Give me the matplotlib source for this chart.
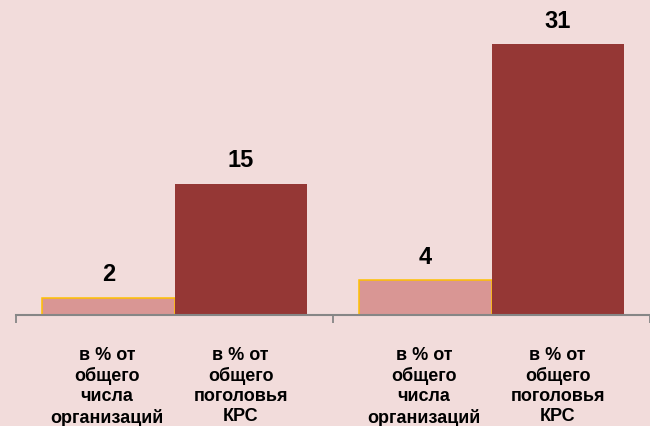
import matplotlib.pyplot as plt
import numpy as np

plt.rcParams['font.family'] = ['Liberation Sans', 'DejaVu Sans']

# data
groups = [0, 1]
share_orgs = [2, 4]
share_cattle = [15, 31]
label_orgs = 'в % от\nобщего\nчисла\nорганизаций'
label_cattle = 'в % от\nобщего\nпоголовья\nКРС'

bg = '#f2dcdb'
fig = plt.figure(figsize=(6.5, 4.27), dpi=100, facecolor=bg)
ax = fig.add_axes([16 / 650, 111 / 427, 634 / 650, 316 / 427])
ax.set_facecolor(bg)

x = np.array(groups)
w = 0.417
b1 = ax.bar(x - w / 2, share_orgs, w, color='#d99694', edgecolor='#ffc000', linewidth=1.1)
b2 = ax.bar(x + w / 2, share_cattle, w, color='#953735', linewidth=0)

for bars in (b1, b2):
    for r in bars:
        ax.annotate(str(int(r.get_height())), (r.get_x() + r.get_width() / 2, r.get_height()),
                    xytext=(0, 9), textcoords='offset points', ha='center', va='bottom',
                    fontsize=17, fontweight='bold', color='#000000')

trans = ax.get_xaxis_transform()
for xi in x:
    ax.text(xi - w / 2 - 0.005, -0.097, label_orgs, transform=trans, ha='center', va='top',
            fontsize=13, fontweight='bold', linespacing=1.24)
    ax.text(xi + w / 2, -0.097, label_cattle, transform=trans, ha='center', va='top',
            fontsize=13, fontweight='bold', linespacing=1.24)

ax.set_xlim(-0.5, 1.5)
ax.set_ylim(0, 36.15)
ax.set_xticks([-0.5, 0.5, 1.5])
ax.set_xticklabels([])
ax.set_yticks([])
ax.tick_params(axis='x', direction='out', length=6, width=1.3, color='#868686')
for s in ('top', 'right', 'left'):
    ax.spines[s].set_visible(False)
ax.spines['bottom'].set_color('#868686')
ax.spines['bottom'].set_linewidth(1.5)

fig.savefig('out.png', dpi=100, facecolor=bg)
